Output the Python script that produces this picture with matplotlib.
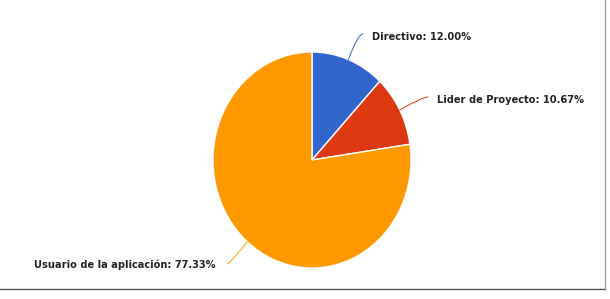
import numpy as np
import matplotlib
matplotlib.use("Agg")
import matplotlib.pyplot as plt

# -----------------------------
# Data
# -----------------------------
labels = ["Directivo", "Lider de Proyecto", "Usuario de la aplicación"]
values = [12.00, 10.67, 77.33]
colors = ["#3366cc", "#dc3912", "#ff9900"]

W, H = 610, 299
cx, cy = 312, 160          # pie centre in pixels (from top-left)
rx, ry = 99, 108           # pie radius in pixels (slightly stretched)

fig = plt.figure(figsize=(W / 100, H / 100), dpi=100)
ax = fig.add_axes([0, 0, 1, 1])

wedges, _ = ax.pie(
    values,
    colors=colors,
    startangle=90,
    counterclock=False,
    wedgeprops=dict(edgecolor="white", linewidth=1.0),
)
ax.set_aspect("auto")
ax.set_xlim(-cx / rx, (W - cx) / rx)
ax.set_ylim(-(H - cy) / ry, cy / ry)
ax.axis("off")

# -----------------------------
# Labels with curved leader lines
# -----------------------------
# (text x, text y, alignment, line end x, line end y) in pixels
label_pos = [
    (372, 37, "left", 363, 34),
    (437, 100, "left", 428, 97),
    (216, 265, "right", 227, 264),
]


def px(x, y):
    return (x - cx) / rx, (cy - y) / ry


for wedge, lab, val, col, (tx, ty, ha, lx, ly) in zip(
    wedges, labels, values, colors, label_pos
):
    mid = np.deg2rad((wedge.theta1 + wedge.theta2) / 2)
    edge = (np.cos(mid), np.sin(mid))
    disp_ang = np.rad2deg(np.arctan2(np.sin(mid) * ry, np.cos(mid) * rx))
    ax.annotate(
        "",
        xy=edge,
        xytext=px(lx, ly),
        arrowprops=dict(
            arrowstyle="-",
            color=col,
            lw=0.7,
            shrinkA=0,
            shrinkB=0,
            connectionstyle=f"angle3,angleA=0,angleB={disp_ang:.1f}",
        ),
    )
    ax.text(
        *px(tx, ty),
        f"{lab}: {val:.2f}%",
        ha=ha,
        va="center",
        fontsize=7.15,
        fontweight="bold",
        color="#222222",
        family="DejaVu Sans",
    )

# frame lines at the right and bottom
fig.add_artist(plt.Line2D([0, 605 / W], [1 - 289 / H, 1 - 289 / H],
                          transform=fig.transFigure, color="#555555", lw=1.0))
fig.add_artist(plt.Line2D([605 / W, 605 / W], [1 - 289 / H, 1],
                          transform=fig.transFigure, color="#999999", lw=1.0))

fig.savefig("out.png", dpi=100)
